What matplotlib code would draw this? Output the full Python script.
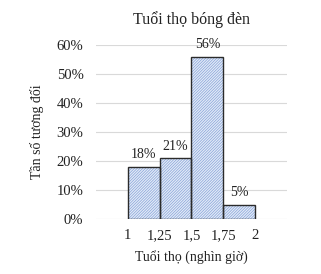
import matplotlib
matplotlib.use("Agg")
import matplotlib.pyplot as plt
from matplotlib.ticker import FuncFormatter

plt.rcParams['font.family'] = ['Liberation Serif', 'DejaVu Serif']
plt.rcParams['hatch.linewidth'] = 0.5

bin_left = [1.0, 1.25, 1.5, 1.75]
freq = [0.18, 0.21, 0.56, 0.05]
labels = ['18%', '21%', '56%', '5%']
xticks = [1, 1.25, 1.5, 1.75, 2]
xticklabels = ['1', '1,25', '1,5', '1,75', '2']
yticks = [0, 0.1, 0.2, 0.3, 0.4, 0.5, 0.6]

fig = plt.figure(figsize=(3.21, 2.74), dpi=100)
ax = fig.add_axes([0.299, 0.2007, 0.595, 0.6353])

# hatched fill
ax.bar(bin_left, freq, width=0.25, align='edge', facecolor='#e3ebf8',
       edgecolor='#86a2d8', linewidth=0, hatch='////////////', zorder=3)
# outlines
bars = ax.bar(bin_left, freq, width=0.25, align='edge', facecolor='none',
              edgecolor='#2b2b2b', linewidth=1.0, zorder=4)
for b, lab in zip(bars, labels):
    ax.annotate(lab, (b.get_x() + b.get_width() / 2, b.get_height()),
                xytext=(0, 4), textcoords='offset points', ha='center', va='bottom',
                fontsize=10, color='#222222')

ax.set_xlim(0.75, 2.25)
ax.set_ylim(0, 0.6)
ax.set_yticks(yticks)
ax.yaxis.set_major_formatter(FuncFormatter(lambda v, p: f"{round(v*100)}%"))
ax.set_xticks(xticks)
ax.set_xticklabels(xticklabels)
ax.tick_params(axis='both', length=0, labelsize=10.5, colors='#222222')
ax.tick_params(axis='x', pad=7)
ax.tick_params(axis='y', pad=9)
ax.grid(axis='y', color='#d9d9d9', linewidth=0.8, zorder=0)
for s in ax.spines.values():
    s.set_visible(False)
ax.set_title('Tuổi thọ bóng đèn', fontsize=11.5, color='#222222', pad=15)
ax.set_xlabel('Tuổi thọ (nghìn giờ)', fontsize=10, color='#222222', labelpad=6)
ax.set_ylabel('Tần số tương đối', fontsize=10, color='#222222', labelpad=9)

fig.savefig('out.png', dpi=100)
